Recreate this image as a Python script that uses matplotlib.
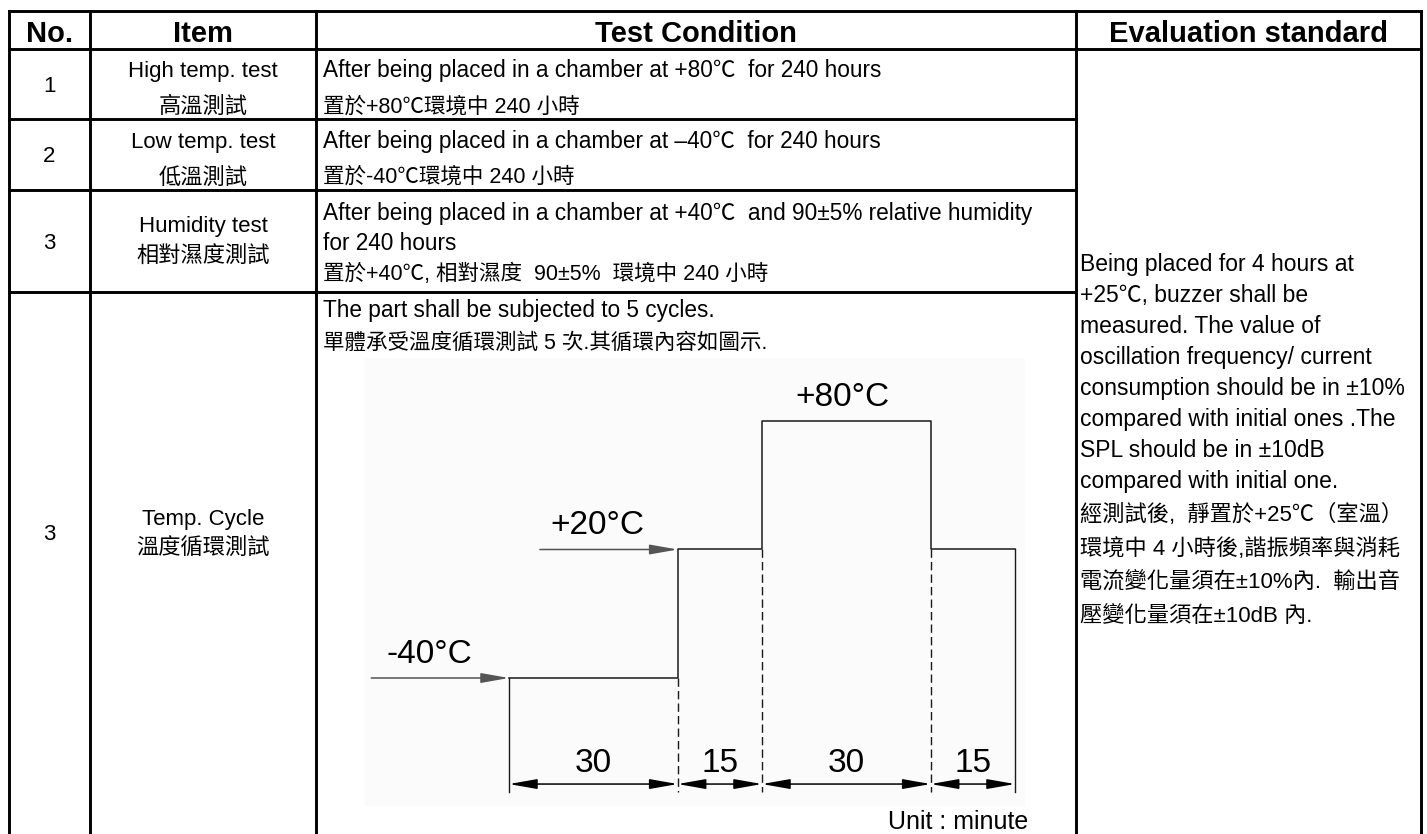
import matplotlib

matplotlib.use("Agg")
import numpy as np
from matplotlib import pyplot as plt
from matplotlib import transforms

W, H = 1427, 834

LATIN = ["Liberation Sans"]
MIXED = ["Liberation Sans", "Noto Sans CJK TC"]

headers = ["No.", "Item", "Test Condition", "Evaluation standard"]
numbers = ["1", "2", "3", "3"]
items_en = ["High temp. test", "Low temp. test", "Humidity test", "Temp. Cycle"]
items_zh = ["高溫測試", "低溫測試", "相對濕度測試", "溫度循環測試"]
conditions_en = [
    ["After being placed in a chamber at +80℃  for 240 hours"],
    ["After being placed in a chamber at –40℃  for 240 hours"],
    ["After being placed in a chamber at +40℃  and 90±5% relative humidity", "for 240 hours"],
    ["The part shall be subjected to 5 cycles."],
]
conditions_zh = [
    "置於+80℃環境中 240 小時",
    "置於-40℃環境中 240 小時",
    "置於+40℃, 相對濕度  90±5%  環境中 240 小時",
    "單體承受溫度循環測試 5 次.其循環內容如圖示.",
]
evaluation_en = [
    "Being placed for 4 hours at",
    "+25℃, buzzer shall be",
    "measured. The value of",
    "oscillation frequency/ current",
    "consumption should be in ±10%",
    "compared with initial ones .The",
    "SPL should be in ±10dB",
    "compared with initial one.",
]
evaluation_zh = [
    "經測試後,  靜置於+25℃（室溫）",
    "環境中 4 小時後,諧振頻率與消耗",
    "電流變化量須在±10%內.  輸出音",
    "壓變化量須在±10dB 內.",
]
cycle_temps = [-40, 20, 80, 20]
cycle_minutes = [30, 15, 30, 15]
unit_label = "Unit : minute"

# table grid, pixels
col_x = [9, 90, 316, 1076, 1421]
row_y = [11, 49, 119, 190, 292]
# visual centre of each text line, pixels
number_y = [84, 154, 241, 532]
item_y = [(69, 105), (140, 176), (224, 254), (517, 546)]
cond_en_y = [(69,), (140,), (212, 242), (309,)]
cond_zh_y = [105, 175, 272, 341]


def main() -> None:
    fig = plt.figure(figsize=(W / 100, H / 100), dpi=100)
    ax = fig.add_axes([0, 0, 1, 1])
    ax.set_xlim(0, W)
    ax.set_ylim(H, 0)
    ax.set_axis_off()

    draw_grid(ax)
    draw_texts(ax)
    draw_cycle(fig)

    ax.text(1028, 829, unit_label, ha="right", va="baseline", fontsize=18, family=LATIN)

    fig.savefig("out.png", dpi=100)


def put(ax, x, yc, s, size, ha="left", weight="normal", family=MIXED) -> None:
    # yc is the visual centre of the caps, convert to baseline
    ax.text(x, yc + 0.36 * size * 100 / 72, s, ha=ha, va="baseline",
            fontsize=size, fontweight=weight, family=family, color="black")


def draw_grid(ax) -> None:
    kw = dict(color="black", lw=2.1, solid_capstyle="projecting")
    ax.plot([col_x[0], col_x[-1]], [row_y[0], row_y[0]], **kw)
    ax.plot([col_x[0], col_x[-1]], [row_y[1], row_y[1]], **kw)
    for y in row_y[2:]:
        ax.plot([col_x[0], col_x[3]], [y, y], **kw)
    for x in col_x:
        ax.plot([x, x], [row_y[0], H + 5], **kw)


def draw_texts(ax) -> None:
    for i, label in enumerate(headers):
        cx = (col_x[i] + col_x[i + 1]) / 2
        put(ax, cx, 31, label, 21, ha="center", weight="bold", family=LATIN)

    no_cx = (col_x[0] + col_x[1]) / 2
    item_cx = (col_x[1] + col_x[2]) / 2
    for i in range(len(numbers)):
        put(ax, no_cx, number_y[i], numbers[i], 16, ha="center")
        put(ax, item_cx, item_y[i][0], items_en[i], 16, ha="center")
        put(ax, item_cx, item_y[i][1], items_zh[i], 16, ha="center")
        for line, yc in zip(conditions_en[i], cond_en_y[i]):
            put(ax, 323, yc, line, 16.3)
        put(ax, 323, cond_zh_y[i], conditions_zh[i], 15.5)

    for k, line in enumerate(evaluation_en):
        put(ax, 1080, 263 + 31 * k, line, 16.5)
    for k, line in enumerate(evaluation_zh):
        put(ax, 1080, 513 + 33.5 * k, line, 16)


def draw_cycle(fig) -> None:
    left, top, right, bottom = 365, 358, 1025, 806
    ax = fig.add_axes([left / W, 1 - bottom / H, (right - left) / W, (bottom - top) / H])
    ax.set_facecolor("#fbfbfb")
    for sp in ax.spines.values():
        sp.set_visible(False)
    ax.set_xticks([])
    ax.set_yticks([])

    t = np.concatenate([[0], np.cumsum(cycle_minutes)])
    temps = np.array(cycle_temps)
    # anchor the time and temperature scales to the drawing box
    sx = (1015 - 509) / t[-1]
    sy = (678 - 421) / (temps.max() - temps.min())
    ax.set_xlim((left - 509) / sx, t[-1] + (right - 1015) / sx)
    ylo = temps.min() - (bottom - 678) / sy
    yhi = temps.max() + (421 - top) / sy
    ax.set_ylim(ylo, yhi)

    ax.step(t, np.append(temps, temps[-1]), where="post", color="#1a1a1a", lw=1.1)

    head = dict(arrowstyle="-|>,head_length=1.7,head_width=0.3", color="#555555",
                lw=1.1, shrinkA=0, shrinkB=0, mutation_scale=10)
    lead = 24.5
    for i in (0, 1):
        ax.annotate("", xy=(t[i], temps[i]), xytext=(t[i] - lead, temps[i]), arrowprops=head)

    offsets = [-80, -80, 80]
    for i, dx in enumerate(offsets):
        ax.annotate(f"{temps[i]:+d}°C", xy=(t[i], temps[i]), xytext=(dx, 15),
                    textcoords="offset pixels", ha="center", va="baseline",
                    fontsize=24, family=LATIN)

    trans = transforms.blended_transform_factory(ax.transData, ax.transAxes)
    y_end = ylo + 0.031 * (yhi - ylo)
    for i, ti in enumerate(t):
        if i == 0:
            top_t, ls = temps[0], "-"
        elif i == len(t) - 1:
            top_t, ls = temps[-1], "-"
        else:
            top_t, ls = min(temps[i - 1], temps[i]), (0, (6, 3))
        ax.plot([ti, ti], [top_t, y_end], color="#1a1a1a", lw=1.0, linestyle=ls)

    dim = dict(arrowstyle="<|-|>,head_length=1.7,head_width=0.3", color="black",
               lw=1.1, shrinkA=0, shrinkB=0, mutation_scale=10)
    for i, m in enumerate(cycle_minutes):
        ax.annotate("", xy=(t[i + 1], 0.049), xytext=(t[i], 0.049),
                    xycoords=trans, textcoords=trans, arrowprops=dim)
        ax.text((t[i] + t[i + 1]) / 2, 0.076, str(m), transform=trans,
                ha="center", va="baseline", fontsize=24, family=LATIN)


if __name__ == "__main__":
    main()
